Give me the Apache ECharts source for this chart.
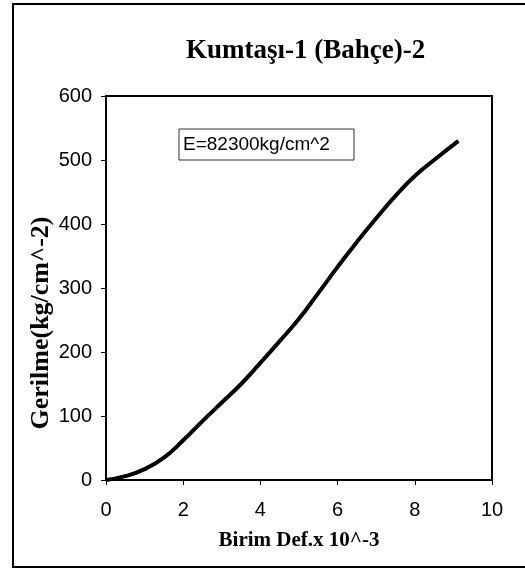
<!DOCTYPE html>
<html>
<head>
<meta charset="utf-8">
<script src="https://cdn.jsdelivr.net/npm/echarts@6/dist/echarts.min.js"></script>
<style>
html,body{margin:0;padding:0;background:#fff;}
#chart{width:525px;height:569px;}
</style>
</head>
<body>
<div id="chart"></div>
<script>
const titleText = 'Kumtaşı-1 (Bahçe)-2';
const xName = 'Birim Def.x 10^-3';
const yName = 'Gerilme(kg/cm^-2)';
const annotation = 'E=82300kg/cm^2';
const strain = [0, 0.5, 1, 1.5, 2, 2.5, 3, 3.5, 4, 4.5, 5, 5.5, 6, 6.5, 7, 7.5, 8, 8.5, 9.13];
const stress = [0, 6, 17, 35, 62, 92, 121, 150, 183, 217, 252, 292, 333, 372, 409, 444, 475, 500, 530];

const chart = echarts.init(document.getElementById('chart'), null, {renderer: 'canvas'});
const points = strain.map((x, i) => [x, stress[i]]);
chart.setOption({
  animation: false,
  backgroundColor: '#fff',
  title: {
    text: titleText,
    left: 181, top: 33,
    textStyle: {fontFamily: 'Liberation Serif', fontWeight: 'bold', fontSize: 27, color: '#000'}
  },
  grid: {
    left: 106, top: 96, right: 33, bottom: 89,
    show: true, borderColor: '#000', borderWidth: 2, backgroundColor: 'transparent'
  },
  xAxis: {
    type: 'value', min: 0, max: 10, interval: 2,
    name: xName, nameLocation: 'middle', nameGap: 50,
    nameTextStyle: {fontFamily: 'Liberation Serif', fontWeight: 'bold', fontSize: 21, color: '#000'},
    axisLine: {show: true, lineStyle: {color: '#000', width: 2}},
    axisTick: {show: true, length: 5, lineStyle: {color: '#000', width: 1}},
    axisLabel: {margin: 20, fontFamily: 'Liberation Sans', fontSize: 20, color: '#000'},
    splitLine: {show: false}
  },
  yAxis: {
    type: 'value', min: 0, max: 600, interval: 100,
    name: yName, nameLocation: 'middle', nameGap: 52, nameMoveOverlap: false,
    nameTextStyle: {fontFamily: 'Liberation Serif', fontWeight: 'bold', fontSize: 26, color: '#000', padding: [0, 70, 0, 0]},
    axisLine: {show: true, lineStyle: {color: '#000', width: 2}},
    axisTick: {show: true, length: 5, lineStyle: {color: '#000', width: 1}},
    axisLabel: {margin: 14, fontFamily: 'Liberation Sans', fontSize: 20, color: '#000'},
    splitLine: {show: false}
  },
  series: [{
    type: 'line',
    data: points,
    smooth: 0.5,
    showSymbol: false,
    lineStyle: {color: '#000', width: 4}
  }],
  graphic: [
    {type: 'rect', shape: {x: 13, y: 4, width: 530, height: 563}, style: {fill: 'none', stroke: '#000', lineWidth: 2}, silent: true},
    {type: 'rect', shape: {x: 179, y: 129, width: 175, height: 31}, style: {fill: '#fff', stroke: '#333', lineWidth: 1}, z: 10},
    {type: 'text', x: 183, y: 145, style: {text: annotation, fontFamily: 'Liberation Sans', fontSize: 19, fill: '#000', verticalAlign: 'middle', align: 'left'}, z: 11}
  ]
});
</script>
</body>
</html>
